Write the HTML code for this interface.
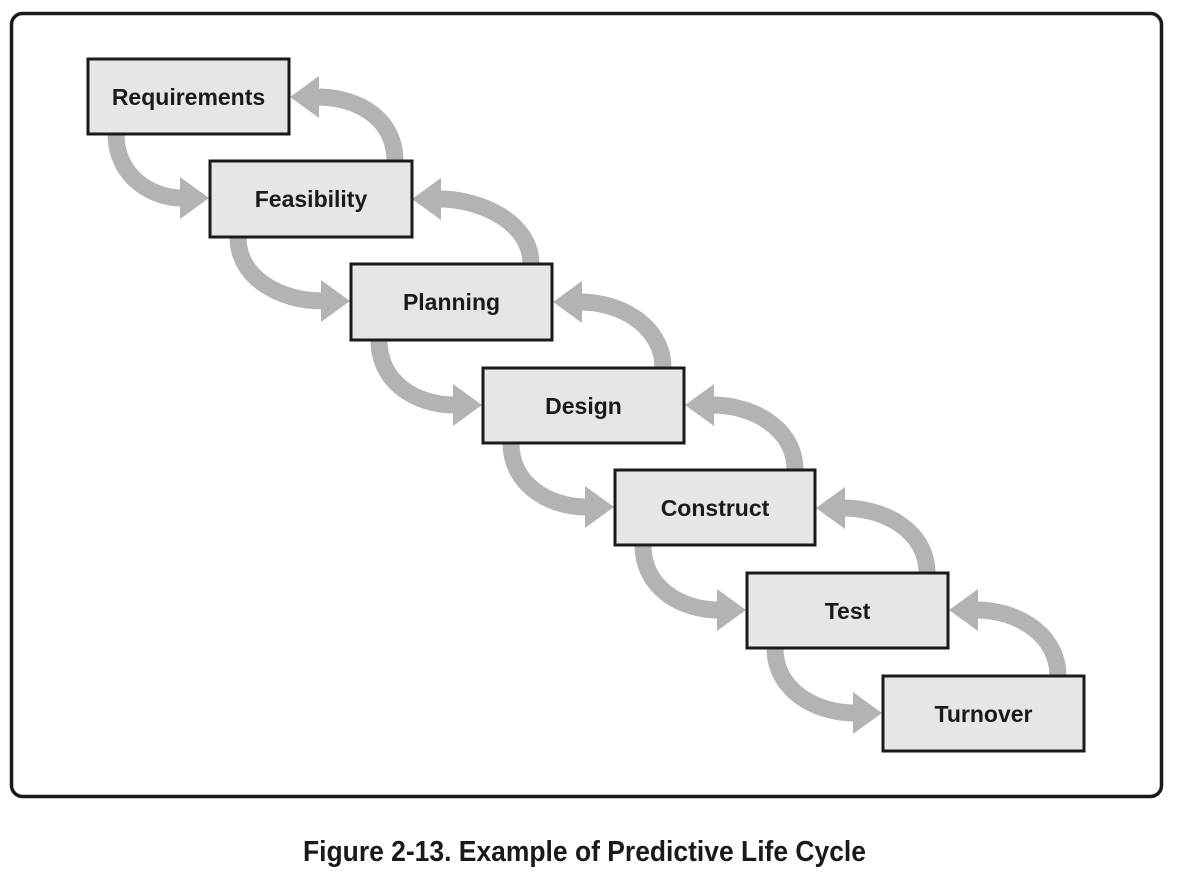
<!DOCTYPE html>
<html><head><meta charset="utf-8"><style>
html,body{margin:0;padding:0;background:#fff;}
svg{display:block;}
.b{fill:#e6e6e6;stroke:#1a1a1a;stroke-width:3;}
.t{font-family:"Liberation Sans",sans-serif;font-weight:bold;font-size:23px;fill:#1a1a1a;text-anchor:middle;}
.a{fill:none;stroke:#b3b3b3;stroke-width:17;}
.h{fill:#b3b3b3;}
</style></head><body>
<svg width="1177" height="875" viewBox="0 0 1177 875" xmlns="http://www.w3.org/2000/svg">
<rect x="11.5" y="13.5" width="1150" height="783" rx="11" fill="#fff" stroke="#1a1a1a" stroke-width="3.5"/>
<path class="a" d="M116,134 C116,175 150,198 182,198"/><polygon class="h" points="180,177 209,198 180,219"/>
<path class="a" d="M238,237 C238,278 280,301 323,301"/><polygon class="h" points="321,280 350,301 321,322"/>
<path class="a" d="M379,340 C379,382 415,405 455,405"/><polygon class="h" points="453,384 482,405 453,426"/>
<path class="a" d="M511,443 C511,484 548,507 587,507"/><polygon class="h" points="585,486 614,507 585,528"/>
<path class="a" d="M643,545 C643,587 680,610 719,610"/><polygon class="h" points="717,589 746,610 717,631"/>
<path class="a" d="M775,648 C775,690 815,713 855,713"/><polygon class="h" points="853,692 882,713 853,734"/>
<path class="a" d="M395,161 C395,120 360,97 317,97"/><polygon class="h" points="319,76 290,97 319,118"/>
<path class="a" d="M531,264 C531,223 482,199 439,199"/><polygon class="h" points="441,178 412,199 441,220"/>
<path class="a" d="M663,368 C663,327 622,302 580,302"/><polygon class="h" points="582,281 553,302 582,323"/>
<path class="a" d="M795,470 C795,429 754,405 712,405"/><polygon class="h" points="714,384 685,405 714,426"/>
<path class="a" d="M927,573 C927,532 886,508 843,508"/><polygon class="h" points="845,487 816,508 845,529"/>
<path class="a" d="M1058,676 C1058,635 1018,610 976,610"/><polygon class="h" points="978,589 949,610 978,631"/>
<rect class="b" x="88" y="59" width="201" height="75"/><text class="t" x="188.5" y="105">Requirements</text>
<rect class="b" x="210" y="161" width="202" height="76"/><text class="t" x="311" y="207">Feasibility</text>
<rect class="b" x="351" y="264" width="201" height="76"/><text class="t" x="451.5" y="310">Planning</text>
<rect class="b" x="483" y="368" width="201" height="75"/><text class="t" x="583.5" y="414">Design</text>
<rect class="b" x="615" y="470" width="200" height="75"/><text class="t" x="715" y="516">Construct</text>
<rect class="b" x="747" y="573" width="201" height="75"/><text class="t" x="847.5" y="619">Test</text>
<rect class="b" x="883" y="676" width="201" height="75"/><text class="t" x="983.5" y="722">Turnover</text>
<text x="303" y="861" textLength="563" lengthAdjust="spacingAndGlyphs" style="font-family:'Liberation Sans Narrow','Liberation Sans',sans-serif;font-weight:bold;font-size:29px;fill:#1a1a1a;">Figure 2-13. Example of Predictive Life Cycle</text>
</svg>
</body></html>
